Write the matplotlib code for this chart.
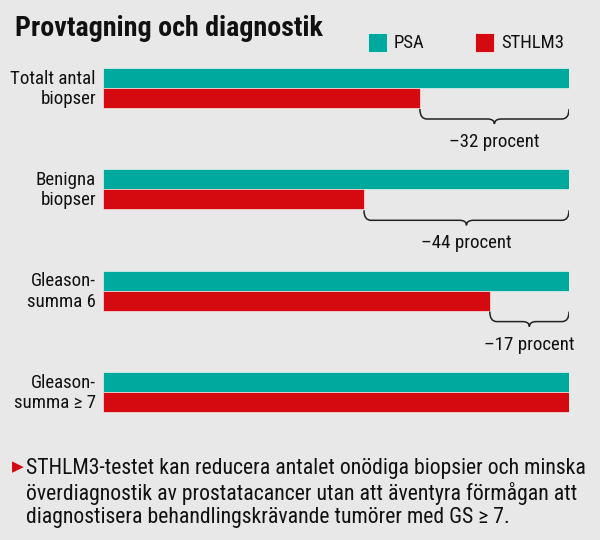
import matplotlib
matplotlib.use("Agg")
import matplotlib.pyplot as plt
from matplotlib import font_manager
from matplotlib.path import Path
from matplotlib.patches import PathPatch, Rectangle

# data (index: PSA = 100)
categories = ["Totalt antal\nbiopser", "Benigna\nbiopser", "Gleason-\nsumma 6", "Gleason-\nsumma \u2265 7"]
psa = [100, 100, 100, 100]
sthlm3 = [68, 56, 83, 100]
reduction_labels = ["\u201332 procent", "\u201344 procent", "\u201317 procent", None]
series_names = ["PSA", "STHLM3"]

title = "Provtagning och diagnostik"
footnote = ("STHLM3-testet kan reducera antalet onödiga biopsier och minska\n"
            "överdiagnostik av prostatacancer utan att äventyra förmågan att\n"
            "diagnostisera behandlingskrävande tumörer med GS \u2265 7.")

BG = "#e8e8e8"
TEAL = "#00a99d"
RED = "#d40a10"
INK = "#111111"

installed = {f.name for f in font_manager.fontManager.ttflist}
narrow = [n for n in ["Roboto Condensed", "Liberation Sans Narrow"] if n in installed]
plt.rcParams['font.family'] = narrow + ['Liberation Sans', 'DejaVu Sans']

W, H = 600, 540
fig = plt.figure(figsize=(6, 5.4), dpi=100, facecolor=BG)
# axes: x in percent (0..100 -> px 103..569), y in pixels from top
ax = fig.add_axes([103 / W, 0, 466 / W, 1])
ax.set_xlim(0, 100)
ax.set_ylim(H, 0)
ax.axis("off")
px = 100 / 466  # one pixel in x data units

bar_h = 20
top0 = 68
step = 101.3

for i, cat in enumerate(categories):
    top = top0 + i * step
    ax.barh(top + bar_h / 2, psa[i], height=bar_h, color=TEAL, edgecolor="white", linewidth=0.4)
    ax.barh(top + bar_h * 1.5, sthlm3[i], height=bar_h, color=RED, edgecolor="white", linewidth=0.4)
    ax.text(-7 * px, top + bar_h + 1, cat, ha="right", va="center", fontsize=13.6,
            linespacing=1.17, color=INK)
    if reduction_labels[i]:
        xl, xr = sthlm3[i], psa[i]
        xm = (xl + xr) / 2
        y0 = top + 2 * bar_h + 1
        y1 = y0 + 10
        y2 = y1 + 5
        r = 7 * px
        verts = [(xl, y0), (xl, y1), (xl + r, y1),
                 (xm - r, y1),
                 (xm, y1), (xm, y2),
                 (xm, y1), (xm + r, y1),
                 (xr - r, y1),
                 (xr, y1), (xr, y0)]
        codes = [Path.MOVETO, Path.CURVE3, Path.CURVE3,
                 Path.LINETO,
                 Path.CURVE3, Path.CURVE3,
                 Path.CURVE3, Path.CURVE3,
                 Path.LINETO,
                 Path.CURVE3, Path.CURVE3]
        ax.add_patch(PathPatch(Path(verts, codes), facecolor="none", edgecolor="#222222", lw=1.1))
        ax.text(xm, y2 + 18, reduction_labels[i], ha="center", va="center", fontsize=13.6,
                color=INK)

# title and legend
fig.text(15 / W, 1 - 28 / H, title, ha="left", va="center", fontsize=20.2,
         fontweight="bold", color=INK)
for x0, name, col in [(368, series_names[0], TEAL), (475, series_names[1], RED)]:
    fig.patches.append(Rectangle((x0 / W, 1 - 52 / H), 19 / W, 19 / H, transform=fig.transFigure,
                                 facecolor=col, edgecolor="white", linewidth=0.5))
    fig.text((x0 + 26) / W, 1 - 43 / H, name, ha="left", va="center", fontsize=13.5,
             color=INK)

# footnote
fig.text(12 / W, 1 - 467 / H, "\u25b6", ha="left", va="center", fontsize=11, color=RED,
         family="DejaVu Sans")
fig.text(26 / W, 1 - 493 / H, footnote, ha="left", va="center", fontsize=15.7,
         linespacing=1.16, color=INK)

fig.savefig("out.png", dpi=100, facecolor=BG)
